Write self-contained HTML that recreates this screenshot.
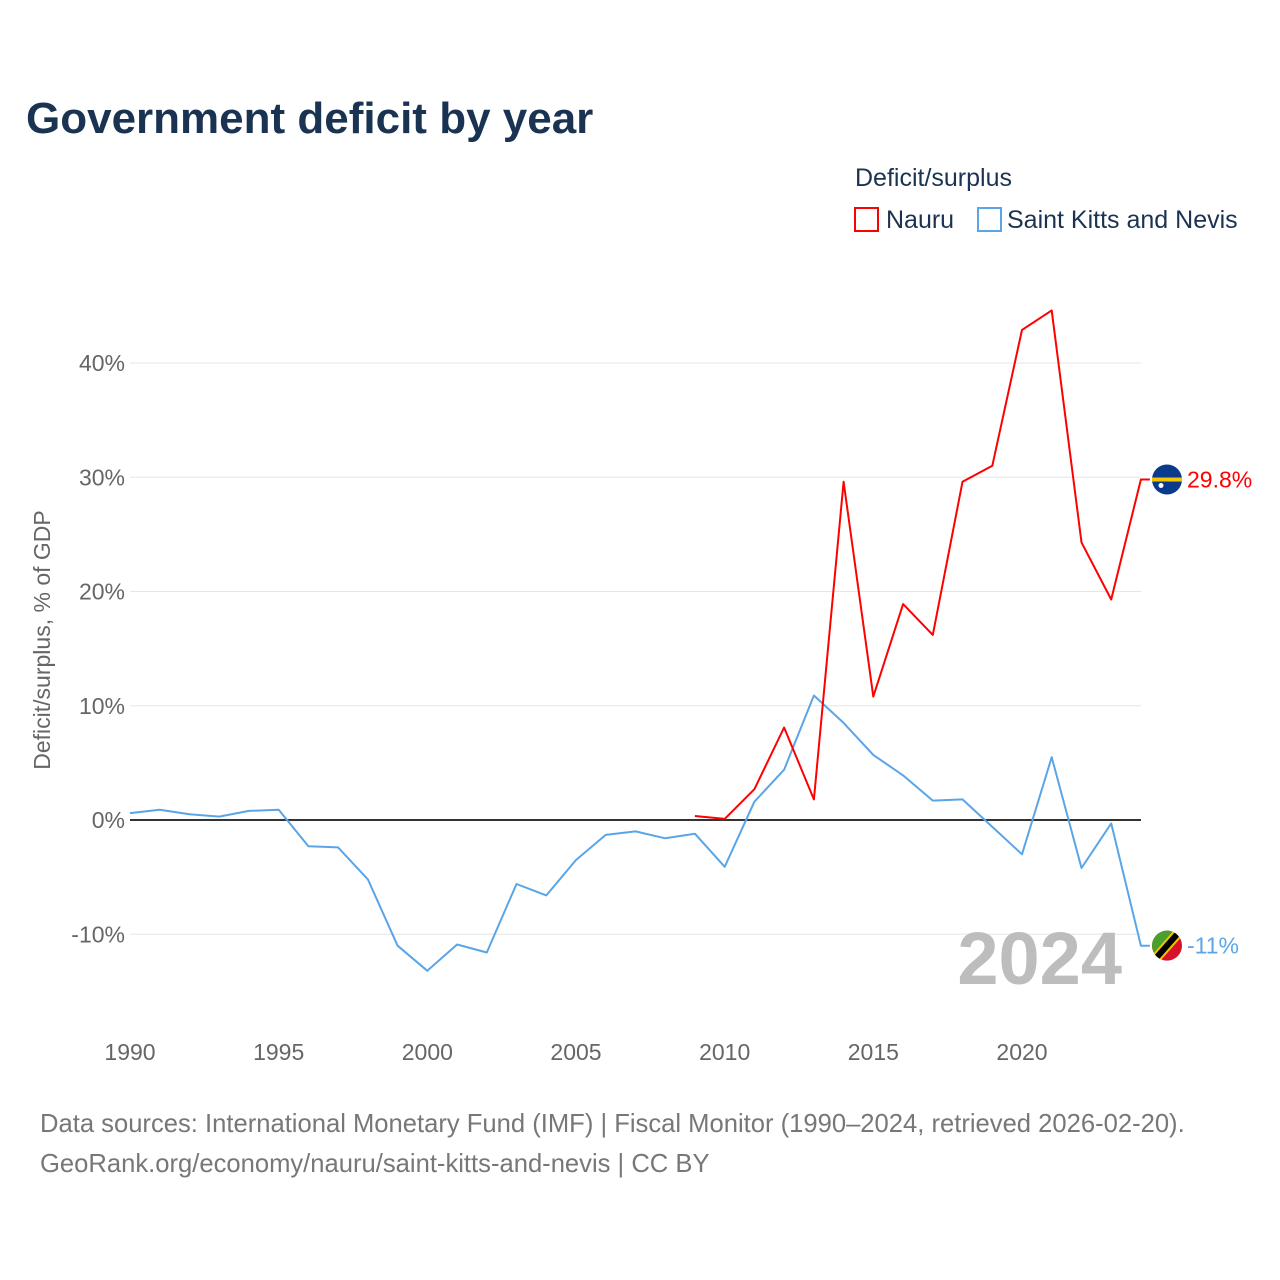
<!DOCTYPE html>
<html><head><meta charset="utf-8">
<style>
body{margin:0;background:#fff;font-family:"Liberation Sans",sans-serif;}
#wrap{position:relative;width:1280px;height:1280px;overflow:hidden;}
</style></head>
<body>
<div id="wrap">
<svg id="chart" width="1280" height="1280">
  <text x="26" y="133" font-size="44" font-weight="bold" fill="#1b3352">Government deficit by year</text>
  <text x="855" y="186" font-size="25" fill="#1b3352">Deficit/surplus</text>
  <g>
    <rect x="855" y="208" width="23" height="23" fill="none" stroke="#ff0000" stroke-width="2"/>
    <text x="886" y="228" font-size="25" fill="#1b3352">Nauru</text>
  </g>
  <g>
    <rect x="978" y="208" width="23" height="23" fill="none" stroke="#5aa5e8" stroke-width="2"/>
    <text x="1007" y="228" font-size="25" fill="#1b3352">Saint Kitts and Nevis</text>
  </g>
  <text transform="translate(50,640) rotate(-90)" text-anchor="middle" font-size="23" fill="#666">Deficit/surplus, % of GDP</text>
  <g id="grid"></g>
  <g id="xticks"></g>
  <text x="1122" y="984" text-anchor="end" font-size="74" font-weight="bold" fill="#bdbdbd">2024</text>
  <g id="series"></g>
  <text x="40" y="1132" font-size="25.6" fill="#777">Data sources: International Monetary Fund (IMF) | Fiscal Monitor (1990–2024, retrieved 2026-02-20).</text>
  <text x="40" y="1172" font-size="25.6" fill="#777">GeoRank.org/economy/nauru/saint-kitts-and-nevis | CC BY</text>
</svg>
</div>
<script>
const yTicks=[-10,0,10,20,30,40];
const xTicks=[1990,1995,2000,2005,2010,2015,2020];
const kittsYears=[1990,1991,1992,1993,1994,1995,1996,1997,1998,1999,2000,2001,2002,2003,2004,2005,2006,2007,2008,2009,2010,2011,2012,2013,2014,2015,2016,2017,2018,2019,2020,2021,2022,2023,2024];
const kittsValues=[0.6,0.9,0.5,0.3,0.8,0.9,-2.3,-2.4,-5.2,-11,-13.2,-10.9,-11.6,-5.6,-6.6,-3.5,-1.3,-1.0,-1.6,-1.2,-4.1,1.6,4.4,10.9,8.5,5.7,3.9,1.7,1.8,-0.6,-3.0,5.5,-4.2,-0.3,-11];
const nauruYears=[2009,2010,2011,2012,2013,2014,2015,2016,2017,2018,2019,2020,2021,2022,2023,2024];
const nauruValues=[0.35,0.1,2.7,8.1,1.8,29.6,10.8,18.9,16.2,29.6,31.0,42.9,44.6,24.3,19.3,29.8];
const nauruLabel="29.8%", kittsLabel="-11%";

const NS="http://www.w3.org/2000/svg";
const X=y=>130+(y-1990)*(892/30);
const Y=v=>820-v*11.425;
function mk(tag,attrs,parent){const e=document.createElementNS(NS,tag);for(const k in attrs)e.setAttribute(k,attrs[k]);parent.appendChild(e);return e;}
const grid=document.getElementById('grid');
yTicks.forEach(t=>{
  const l=mk('line',{x1:130,x2:1141,y1:Y(t),y2:Y(t),stroke:t===0?'#333':'#e6e6e6','stroke-width':t===0?2:1},grid);
  
  
  const tx=mk('text',{x:125,y:Y(t)+8,'text-anchor':'end','font-size':23,fill:'#666'},grid);
  tx.textContent=t+'%';
  
  
});
const xt=document.getElementById('xticks');
xTicks.forEach(t=>{
  const tx=mk('text',{x:X(t),y:1060,'text-anchor':'middle','font-size':23,fill:'#666'},xt);
  tx.textContent=t;
  
  
});
const sg=document.getElementById('series');
function line(years,vals,color,name,label){
  let d=years.map((y,i)=>(i?'L':'M')+X(y).toFixed(1)+','+Y(vals[i]).toFixed(1)).join(' ');
  const lastY=Y(vals[vals.length-1]);
  d+=' L'+(X(years[years.length-1])+9).toFixed(1)+','+lastY.toFixed(1);
  const p=mk('path',{d:d,fill:'none',stroke:color,'stroke-width':2,'stroke-linejoin':'round'},sg);
  
  
  const t=mk('text',{x:1187,y:lastY+8,'font-size':23,fill:color},sg);
  t.textContent=label;
  
  
  return lastY;
}
const ky=line(kittsYears,kittsValues,'#5aa5e8','saint-kitts',kittsLabel);
const ny=line(nauruYears,nauruValues,'#ff0000','nauru',nauruLabel);
const fn=mk('g',{},sg);


mk('circle',{cx:1167,cy:ny,r:15,fill:'#0a3a8c'},fn);
mk('rect',{x:1152,y:ny-2,width:30,height:4,fill:'#f5c400'},fn);
mk('circle',{cx:1161,cy:ny+6,r:2.5,fill:'#fff'},fn);
const fk=mk('g',{},sg);


mk('clipPath',{id:'kc'},fk);
mk('circle',{cx:1167,cy:ky,r:15},document.getElementById('kc'));
const kg=mk('g',{'clip-path':'url(#kc)'},fk);
mk('rect',{x:1150,y:ky-16,width:34,height:32,fill:'#d8102a'},kg);
mk('polygon',{points:`1150,${ky-16} 1184,${ky-16} 1150,${ky+16}`,fill:'#4aa02c'},kg);
mk('line',{x1:1182,y1:ky-17,x2:1152,y2:ky+17,stroke:'#f5c400','stroke-width':10},kg);
mk('line',{x1:1182,y1:ky-17,x2:1152,y2:ky+17,stroke:'#000','stroke-width':6},kg);
</script>
</body></html>
